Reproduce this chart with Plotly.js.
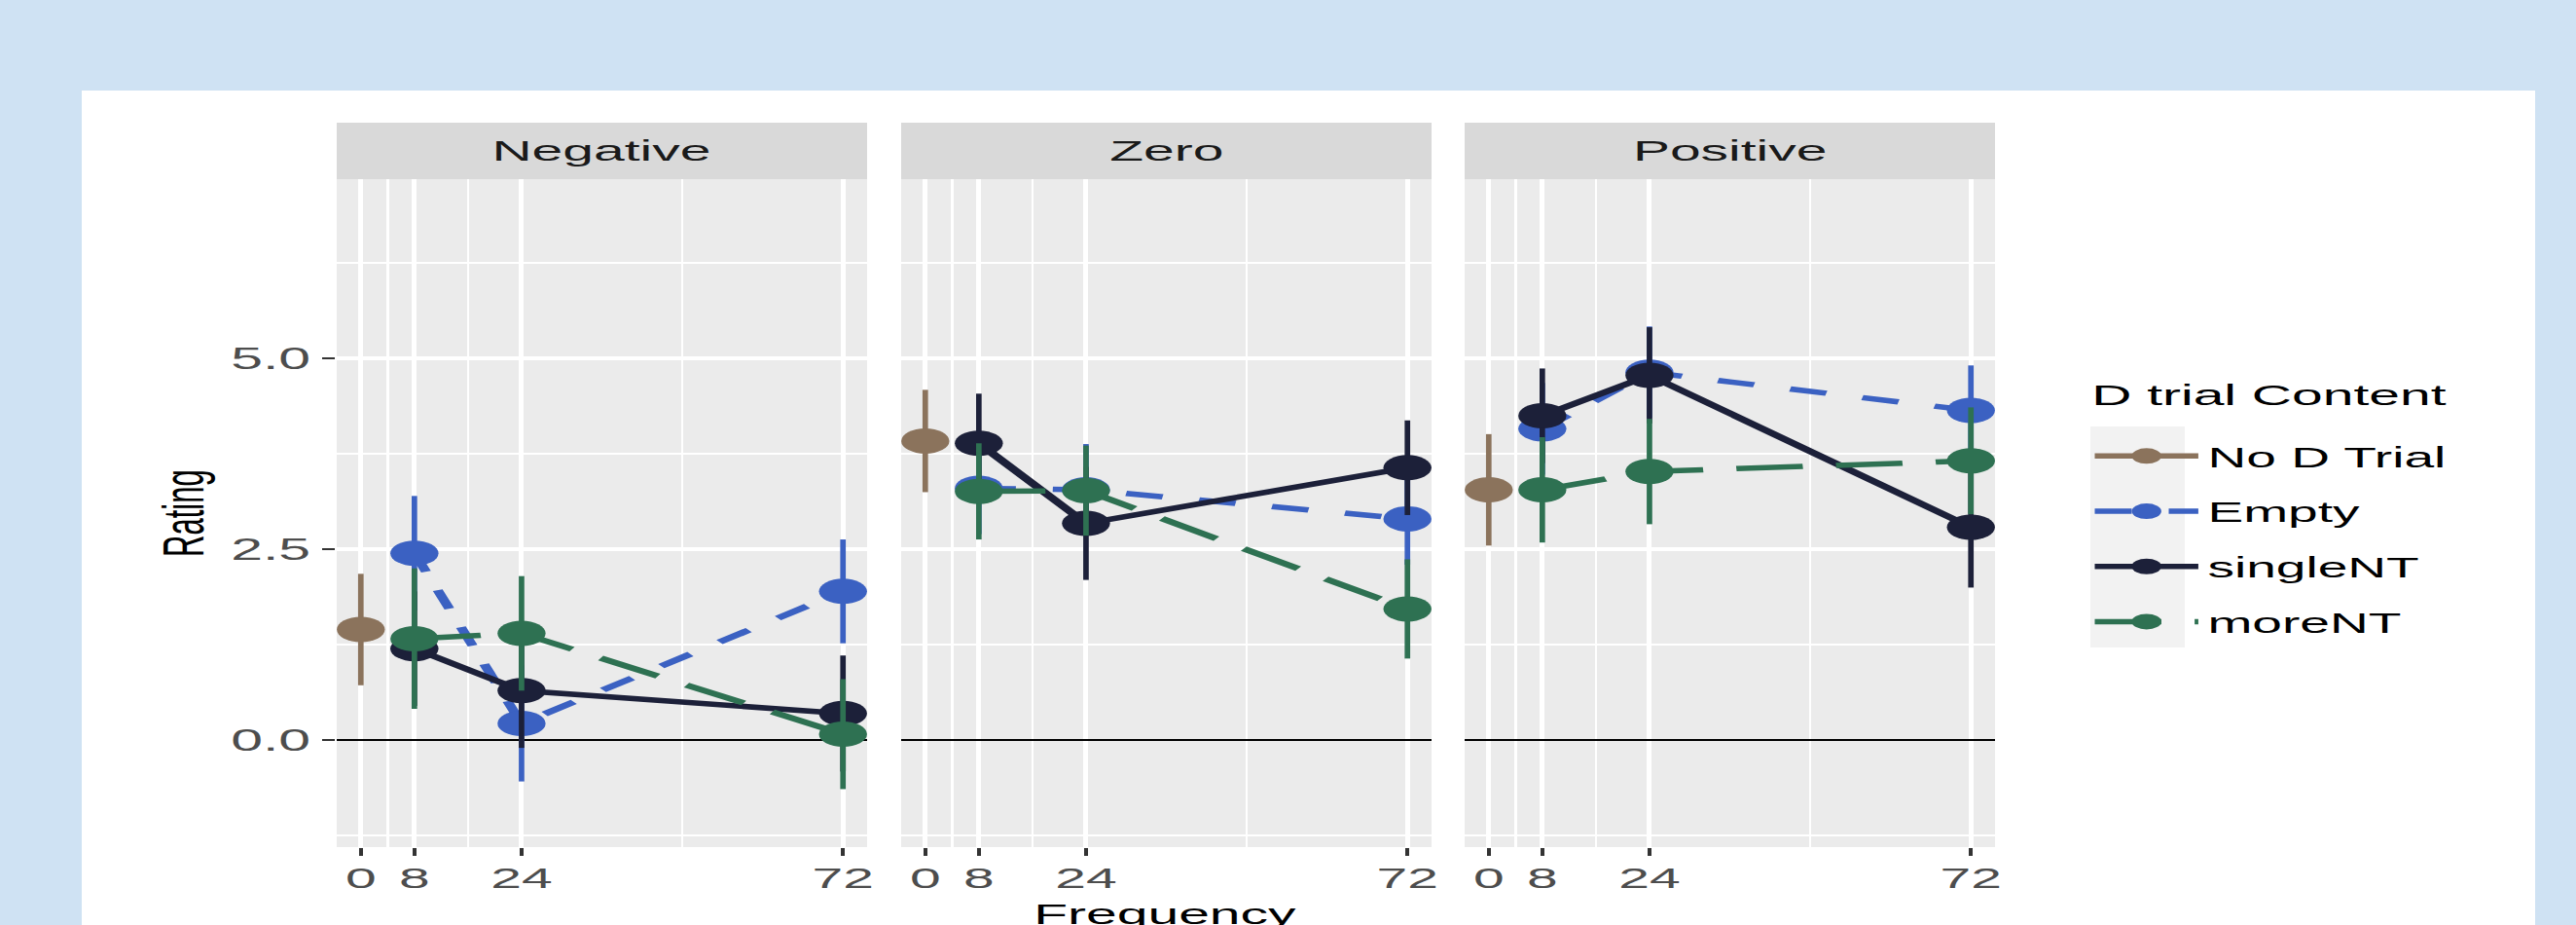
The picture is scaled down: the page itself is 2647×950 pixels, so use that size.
<!DOCTYPE html>
<html><head><meta charset="utf-8">
<script src="https://cdn.plot.ly/plotly-3.0.1.min.js"></script>
<style>
html,body{margin:0;padding:0;width:2647px;height:950px;overflow:hidden;background:#cfe2f3;}
#card{position:absolute;left:84px;top:93px;width:2521px;height:857px;background:#ffffff;}
#plot{position:absolute;left:0;top:0;width:1393px;height:950px;transform:scaleX(1.90022);transform-origin:0 0;}
</style></head>
<body><div id="card"></div><div id="plot"></div>
<script>
// ---------------- data ----------------
const panels = ["Negative", "Zero", "Positive"];
const seriesNames = ["No D Trial", "Empty", "singleNT", "moreNT"];
const noTrialX = [0];
const trialX = [8, 24, 72];
const xTickVals = [0, 8, 24, 72];
const xTickText = ["0", "8", "24", "72"];
const yTickVals = [0, 2.5, 5];
const yTickText = ["0.0", "2.5", "5.0"];

// means per panel (Negative, Zero, Positive)
const noTrialMean = [[1.45], [3.92], [3.28]];
const noTrialErr  = [[0.73], [0.67], [0.73]];
const emptyMean   = [[2.45, 0.22, 1.95], [3.30, 3.28, 2.90], [4.08, 4.82, 4.32]];
const emptyErr    = [[0.75, 0.76, 0.68], [0.60, 0.60, 0.60], [0.60, 0.60, 0.59]];
const singleMean  = [[1.20, 0.65, 0.35], [3.89, 2.84, 3.57], [4.25, 4.78, 2.79]];
const singleErr   = [[0.75, 0.75, 0.76], [0.65, 0.74, 0.62], [0.62, 0.63, 0.79]];
const moreMean    = [[1.33, 1.40, 0.08], [3.26, 3.27, 1.72], [3.28, 3.52, 3.66]];
const moreErr     = [[0.92, 0.75, 0.72], [0.63, 0.59, 0.65], [0.69, 0.69, 0.70]];

// ---------------- styles ----------------
const colors = {"No D Trial": "#8B735C", "Empty": "#3B61C2", "singleNT": "#1C2039", "moreNT": "#2E7152"};
const dashes = {"No D Trial": "solid", "Empty": "20px,20px", "singleNT": "solid", "moreNT": "36px,18px"};
const FONT = "Liberation Sans, Arial, Helvetica, sans-serif";
const K = 2647 / 1393;           // horizontal stretch applied by CSS
const PW = 1393, PH = 950;
const fx = v => v / K / PW;      // full-page x pixel -> paper
const fy = v => (PH - v) / PH;   // full-page y pixel -> paper
const panelPix = [[346, 891], [926, 1471], [1505, 2050]];
const plotTop = 184, plotBottom = 870, stripTop = 126;

const seriesData = {
  "No D Trial": {x: noTrialX, m: noTrialMean, e: noTrialErr},
  "Empty": {x: trialX, m: emptyMean, e: emptyErr},
  "singleNT": {x: trialX, m: singleMean, e: singleErr},
  "moreNT": {x: trialX, m: moreMean, e: moreErr}
};

const traces = [];
panels.forEach((p, pi) => {
  const xa = pi === 0 ? "x" : "x" + (pi + 1);
  const ya = pi === 0 ? "y" : "y" + (pi + 1);
  seriesNames.forEach(s => {
    const d = seriesData[s];
    traces.push({
      type: "scatter", mode: "lines+markers",
      x: d.x, y: d.m[pi], xaxis: xa, yaxis: ya,
      name: s, legendgroup: s, showlegend: pi === 0,
      line: {color: colors[s], width: 5.5, dash: dashes[s]},
      marker: {color: colors[s], size: 26, line: {width: 0}},
      error_y: {type: "data", array: d.e[pi], visible: true, width: 0, thickness: 3, color: colors[s]},
      hoverinfo: "x+y+name"
    });
  });
});

const layout = {
  width: PW, height: PH,
  margin: {l: 0, r: 0, t: 0, b: 0},
  paper_bgcolor: "rgba(0,0,0,0)",
  plot_bgcolor: "#EBEBEB",
  font: {family: FONT, color: "#000"},
  showlegend: true,
  legend: {
    x: fx(2143), y: fy(443), xanchor: "left", yanchor: "top",
    traceorder: "grouped", tracegroupgap: 16,
    bgcolor: "rgba(0,0,0,0)", borderwidth: 0,
    itemwidth: 56,
    font: {size: 29, color: "#000", family: FONT}
  },
  shapes: [], annotations: []
};

panels.forEach((p, pi) => {
  const sfx = pi === 0 ? "" : String(pi + 1);
  const dom = [fx(panelPix[pi][0]), fx(panelPix[pi][1])];
  layout["xaxis" + sfx] = {
    domain: dom, anchor: "y" + sfx, range: [-3.6, 75.6],
    tickvals: xTickVals, ticktext: xTickText,
    ticks: "outside", ticklen: 8, tickwidth: 2, tickcolor: "#333333",
    ticklabelstandoff: -3,
    tickfont: {size: 30, color: "#4D4D4D", family: FONT},
    showgrid: true, gridcolor: "#FFFFFF", gridwidth: 2.6,
    minor: {tickvals: [4, 16, 48], showgrid: true, gridcolor: "#FFFFFF", gridwidth: 1.3, ticks: ""},
    zeroline: false, showline: false, fixedrange: true
  };
  layout["yaxis" + sfx] = {
    domain: [fy(plotBottom), fy(plotTop)], anchor: "x" + sfx, range: [-1.4, 7.35],
    tickvals: yTickVals, ticktext: yTickText, showticklabels: pi === 0,
    ticks: pi === 0 ? "outside" : "", ticklen: 7, tickwidth: 2.5, tickcolor: "#333333",
    ticklabelstandoff: 0,
    tickfont: {size: 31, color: "#4D4D4D", family: FONT},
    showgrid: true, gridcolor: "#FFFFFF", gridwidth: 3.5,
    minor: {tickvals: [-1.25, 1.25, 3.75, 6.25], showgrid: true, gridcolor: "#FFFFFF", gridwidth: 1.8, ticks: ""},
    zeroline: true, zerolinecolor: "#000000", zerolinewidth: 2.5,
    showline: false, fixedrange: true
  };
  if (pi > 0) layout["yaxis" + sfx].matches = "y";
  // facet strip
  layout.shapes.push({type: "rect", xref: "paper", yref: "paper", layer: "below",
    x0: dom[0], x1: dom[1], y0: fy(plotTop), y1: fy(stripTop),
    fillcolor: "#D9D9D9", line: {width: 0}});
  layout.annotations.push({xref: "paper", yref: "paper", x: (dom[0] + dom[1]) / 2, y: fy(155),
    xanchor: "center", yanchor: "middle", showarrow: false, text: p,
    font: {size: 30, color: "#1A1A1A", family: FONT}});
});

// legend key background and legend title
layout.shapes.push({type: "rect", xref: "paper", yref: "paper", layer: "below",
  x0: fx(2148), x1: fx(2245), y0: fy(665), y1: fy(438), fillcolor: "#F2F2F2", line: {width: 0}});
layout.annotations.push({xref: "paper", yref: "paper", x: fx(2146), y: fy(405),
  xanchor: "left", yanchor: "middle", showarrow: false, text: "D trial Content",
  font: {size: 30, color: "#000", family: FONT}});

// axis titles
layout.annotations.push({xref: "paper", yref: "paper", x: fx(1198), y: fy(938),
  xanchor: "center", yanchor: "middle", showarrow: false, text: "Frequency",
  font: {size: 30, color: "#000", family: FONT}});
layout.annotations.push({xref: "paper", yref: "paper", x: fx(188), y: fy(527),
  xanchor: "center", yanchor: "middle", showarrow: false, text: "Rating", textangle: -90,
  font: {size: 31, color: "#000", family: FONT}});

Plotly.newPlot("plot", traces, layout, {displayModeBar: false, staticPlot: true});
</script>
</body></html>
